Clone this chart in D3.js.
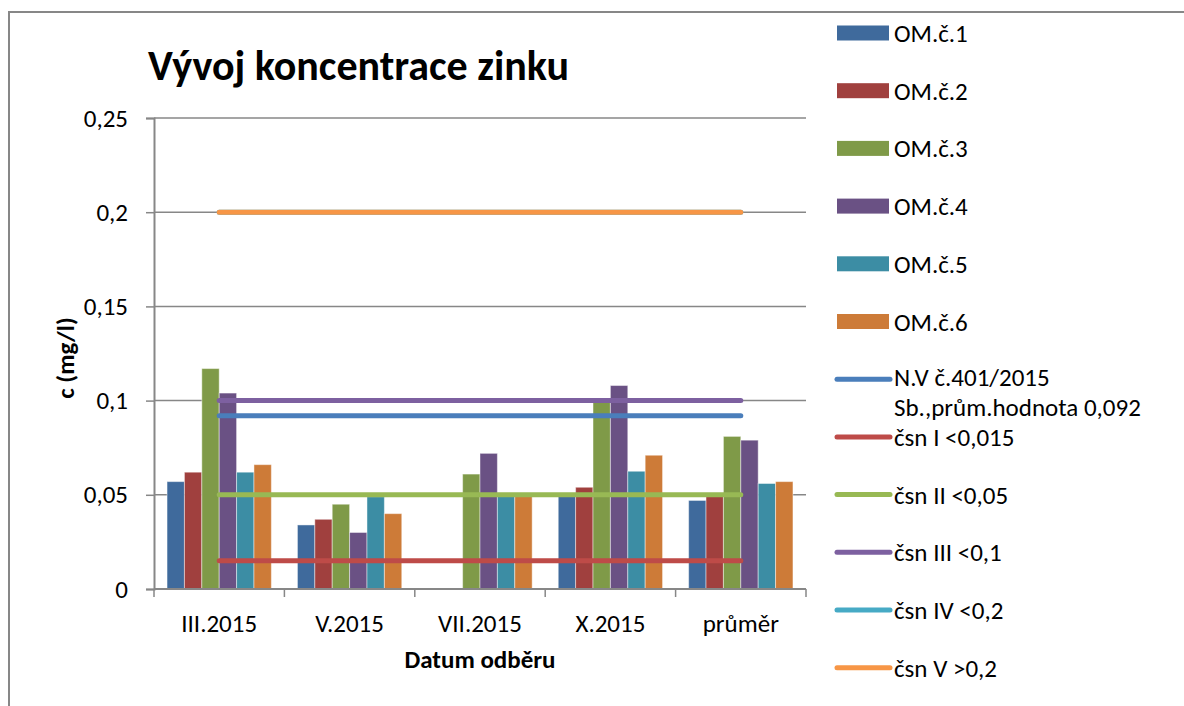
<!DOCTYPE html>
<html><head><meta charset="utf-8">
<script src="https://cdn.jsdelivr.net/npm/d3@7"></script>
<style>
html,body{margin:0;padding:0;background:#fff;}
svg{display:block;font-family:Carlito, Lato, sans-serif;}
</style></head>
<body><svg id="c" width="1184" height="706"></svg>
<script>
const categories = ["III.2015", "V.2015", "VII.2015", "X.2015", "průměr"];
const barNames = ["OM.č.1", "OM.č.2", "OM.č.3", "OM.č.4", "OM.č.5", "OM.č.6"];
const om1 = [0.057, 0.034, null, 0.050, 0.047];
const om2 = [0.062, 0.037, null, 0.054, 0.050];
const om3 = [0.117, 0.045, 0.061, 0.099, 0.081];
const om4 = [0.104, 0.030, 0.072, 0.108, 0.079];
const om5 = [0.062, 0.049, 0.050, 0.0625, 0.056];
const om6 = [0.066, 0.040, 0.050, 0.071, 0.057];
const lineNames = ["N.V č.401/2015|Sb.,prům.hodnota 0,092", "čsn I <0,015", "čsn II <0,05", "čsn III <0,1", "čsn IV <0,2", "čsn V >0,2"];
const nv = [0.092, 0.092, 0.092, 0.092, 0.092];
const csn1 = [0.015, 0.015, 0.015, 0.015, 0.015];
const csn2 = [0.05, 0.05, 0.05, 0.05, 0.05];
const csn3 = [0.1, 0.1, 0.1, 0.1, 0.1];
const csn4 = [0.2, 0.2, 0.2, 0.2, 0.2];
const csn5 = [0.2, 0.2, 0.2, 0.2, 0.2];
const yTicks = [0, 0.05, 0.1, 0.15, 0.2, 0.25];
const yTickLabels = ["0", "0,05", "0,1", "0,15", "0,2", "0,25"];
const title = "Vývoj koncentrace zinku";
const yTitle = "c (mg/l)";
const xTitle = "Datum odběru";

const barData = [om1, om2, om3, om4, om5, om6];
const lineData = [nv, csn1, csn2, csn3, csn4, csn5];
const barColors = ["#3f6a9c", "#a0403e", "#7f9a48", "#6a5184", "#3c8da4", "#cd7b38"];
const lineColors = ["#4a7ebb", "#be4b48", "#98b954", "#7d60a0", "#46aac5", "#f79646"];

const svg = d3.select("#c");
const L = 154, R = 806, T = 118, B = 589;
const grey = "#878787";
const FS = 25;

// outer frame
svg.append("path").attr("d", "M9,706 L9,12 L1184,12").attr("fill", "none").attr("stroke", grey).attr("stroke-width", 2);

const x = d3.scaleBand().domain(categories).range([L, R]).padding(0);
const xb = d3.scaleBand().domain(barNames).range([0, x.bandwidth()]).paddingInner(0).paddingOuter(0.75);
const y = d3.scaleLinear().domain([0, 0.25]).range([B, T]);

// gridlines
svg.append("g").selectAll("line").data(yTicks.slice(1)).join("line")
  .attr("x1", L).attr("x2", R).attr("y1", d => y(d)).attr("y2", d => y(d))
  .attr("stroke", grey).attr("stroke-width", 1.5);

// bars
const bg = svg.append("g");
barData.forEach((vals, si) => {
  bg.append("g").selectAll("rect")
    .data(vals.map((v, i) => ({v, c: categories[i]})).filter(d => d.v != null))
    .join("rect")
    .attr("x", d => x(d.c) + xb(barNames[si]))
    .attr("width", xb.bandwidth())
    .attr("y", d => y(d.v))
    .attr("height", d => B - y(d.v))
    .attr("fill", barColors[si])
    .attr("stroke", "#ffffff").attr("stroke-opacity", 0.45).attr("stroke-width", 1);
});

// y axis
const yAxis = d3.axisLeft(y).tickValues(yTicks).tickFormat((d, i) => yTickLabels[i]).tickSize(8).tickPadding(18);
const ya = svg.append("g").attr("transform", `translate(${L},0)`).call(yAxis);
ya.select(".domain").attr("stroke", grey).attr("stroke-width", 2);
ya.selectAll(".tick line").attr("stroke", grey).attr("stroke-width", 1.5);
ya.selectAll(".tick text").attr("font-size", FS).attr("fill", "#000").attr("font-family", "Carlito, Lato, sans-serif");

// x axis
const xa = svg.append("g").attr("transform", `translate(0,${B})`);
xa.append("line").attr("x1", L).attr("x2", R).attr("stroke", grey).attr("stroke-width", 2);
const bounds = categories.map(c => x(c)).concat([x(categories[categories.length - 1]) + x.bandwidth()]);
xa.selectAll("line.tk").data(bounds).join("line").attr("class", "tk")
  .attr("x1", d => d).attr("x2", d => d).attr("y1", 0).attr("y2", 8)
  .attr("stroke", grey).attr("stroke-width", 1.5);
xa.selectAll("text").data(categories).join("text")
  .attr("x", d => x(d) + x.bandwidth() / 2).attr("y", 43)
  .attr("text-anchor", "middle").attr("font-size", FS).attr("fill", "#000")
  .text(d => d);

// lines
const line = d3.line().x((d, i) => x(categories[i]) + x.bandwidth() / 2).y(d => y(d));
const lg = svg.append("g");
lineData.forEach((vals, si) => {
  lg.append("path").datum(vals).attr("d", line)
    .attr("fill", "none").attr("stroke", lineColors[si]).attr("stroke-width", 5)
    .attr("stroke-linecap", "round");
});

// titles
svg.append("text").attr("x", 148).attr("y", 80).attr("font-size", 42).attr("font-weight", "bold").text(title);
svg.append("text").attr("transform", `translate(74,358) rotate(-90)`)
  .attr("text-anchor", "middle").attr("font-size", 25).attr("font-weight", "bold").text(yTitle);
svg.append("text").attr("x", (L + R) / 2).attr("y", 668).attr("text-anchor", "middle")
  .attr("font-size", 25).attr("font-weight", "bold").text(xTitle);

// legend
const leg = svg.append("g");
const rowY = i => 33 + i * 57.7;
barNames.forEach((n, i) => {
  leg.append("rect").attr("x", 837).attr("y", rowY(i) - 7.5).attr("width", 52).attr("height", 15).attr("fill", barColors[i]);
  leg.append("text").attr("x", 894).attr("y", rowY(i)).attr("dy", "0.36em").attr("font-size", FS).text(n);
});
lineNames.forEach((n, j) => {
  const i = j + barNames.length;
  leg.append("line").attr("x1", 837).attr("x2", 890).attr("y1", rowY(i)).attr("y2", rowY(i))
    .attr("stroke", lineColors[j]).attr("stroke-width", 5).attr("stroke-linecap", "round");
  const parts = n.split("|");
  parts.forEach((p, k) => {
    leg.append("text").attr("x", 894).attr("y", rowY(i) + k * 30)
      .attr("dy", parts.length > 1 ? "0.28em" : "0.36em").attr("font-size", FS).text(p);
  });
});
</script></body></html>
